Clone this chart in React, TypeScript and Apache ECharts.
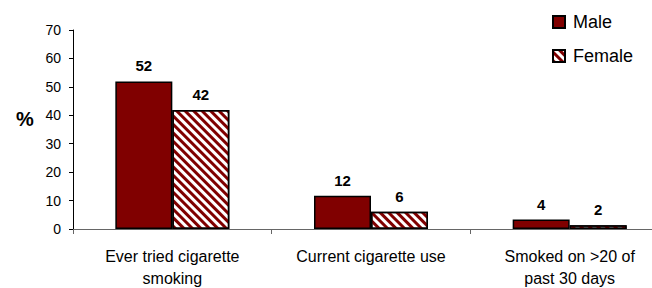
import React, { useEffect, useRef } from "react";
import * as echarts from "echarts";

const categories = ["Ever tried cigarette\nsmoking", "Current cigarette use", "Smoked on >20 of\npast 30 days"];
const maleValues = [51.9, 11.7, 3.3];
const femaleValues = [41.9, 6.1, 1.3];
const maleLabels = ["52", "12", "4"];
const femaleLabels = ["42", "6", "2"];
const yTicks = [0, 10, 20, 30, 40, 50, 60, 70];

const DARK_RED = "#800000";

export default function App() {
  const ref = useRef<HTMLDivElement>(null);
  useEffect(() => {
    if (!ref.current) return;
    const chart = echarts.init(ref.current, null, { renderer: "svg" });
    const font = "Liberation Sans, Arial, sans-serif";
    chart.setOption({
      animation: false,
      textStyle: { fontFamily: font },
      grid: { left: 73, top: 30, width: 596, height: 199, containLabel: false, outerBoundsMode: "none" },
      legend: {
        orient: "vertical",
        left: 547,
        top: 8,
        itemWidth: 12,
        itemHeight: 12,
        itemGap: 16,
        icon: "rect",
        textStyle: { fontSize: 18, color: "#000", fontFamily: font, padding: [0, 0, 0, 3] },
        data: ["Male", "Female"],
      },
      graphic: [
        {
          type: "text",
          left: 16,
          top: 109,
          style: { text: "%", fontSize: 20, fontWeight: "bold", fill: "#000", fontFamily: font },
        },
      ],
      xAxis: {
        type: "category",
        data: categories,
        axisLine: { lineStyle: { color: "#666", width: 1 } },
        axisTick: { show: true, length: 5, lineStyle: { color: "#666" } },
        axisLabel: {
          interval: 0,
          hideOverlap: false,
          fontSize: 16,
          color: "#000",
          margin: 16,
          lineHeight: 22,
          fontFamily: font,
        },
      },
      yAxis: {
        type: "value",
        min: 0,
        max: 70,
        interval: 10,
        splitLine: { show: false },
        axisLine: { show: true, lineStyle: { color: "#000" } },
        axisTick: { show: true, length: 4, lineStyle: { color: "#000" } },
        axisLabel: {
          fontSize: 14,
          color: "#000",
          margin: 12,
          fontFamily: font,
          formatter: (v: number) => (yTicks.includes(v) ? String(v) : ""),
        },
      },
      series: [
        {
          name: "Male",
          type: "bar",
          data: maleValues,
          barWidth: 57,
          barGap: "0%",
          itemStyle: { color: DARK_RED, borderColor: "#000", borderWidth: 1.5 },
          label: {
            show: true,
            position: "top",
            distance: 8,
            fontSize: 15,
            fontWeight: "bold",
            color: "#000",
            fontFamily: font,
            formatter: (p: any) => maleLabels[p.dataIndex],
          },
        },
        {
          name: "Female",
          type: "bar",
          data: femaleValues,
          barWidth: 57,
          barGap: "0%",
          itemStyle: {
            color: "#fff",
            borderColor: "#000",
            borderWidth: 1.5,
            decal: {
              symbol: "rect",
              color: DARK_RED,
              dashArrayX: [1, 0],
              dashArrayY: [3, 3],
              rotation: Math.PI / 4,
              symbolSize: 1,
            },
          },
          label: {
            show: true,
            position: "top",
            distance: 8,
            fontSize: 15,
            fontWeight: "bold",
            color: "#000",
            fontFamily: font,
            formatter: (p: any) => femaleLabels[p.dataIndex],
          },
        },
      ],
    });
    return () => chart.dispose();
  }, []);
  return (
    <div
      ref={ref}
      style={{ position: "absolute", left: 0, top: 0, width: 652, height: 288, background: "#fff" }}
    />
  );
}
